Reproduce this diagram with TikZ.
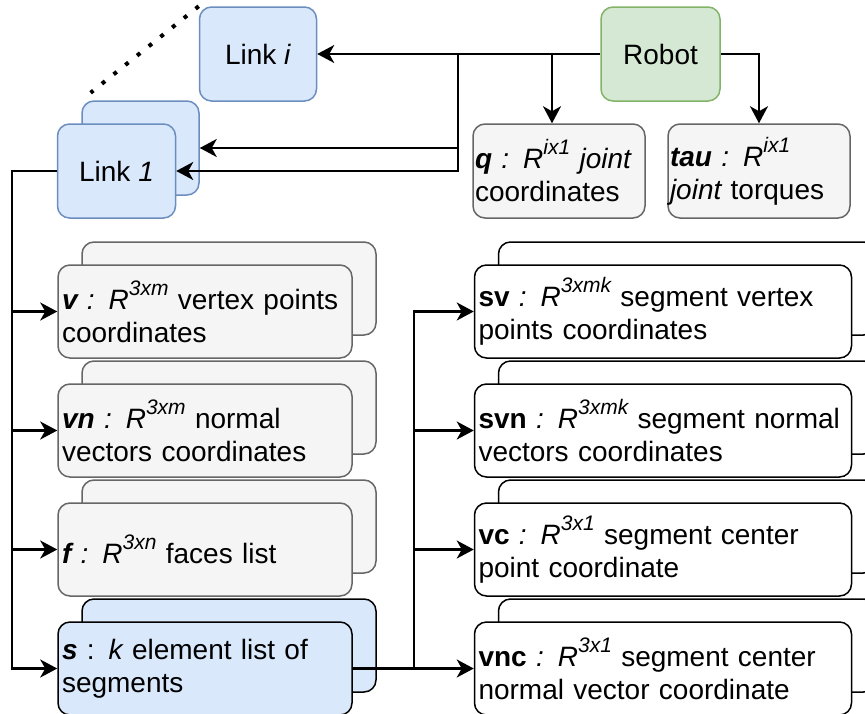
\documentclass[tikz,border=0pt]{standalone}
\usepackage{fontspec}
\setmainfont{Liberation Sans}
\usepackage{xcolor}
\usetikzlibrary{
    arrows.meta,
    positioning
}
\definecolor{LinkBlue}{HTML}{DAE8FC}
\definecolor{LinkEdge}{HTML}{6C8EBF}
\definecolor{RobotGreen}{HTML}{D5E8D4}
\definecolor{RobotEdge}{HTML}{82B366}
\definecolor{SoftGray}{HTML}{F5F5F5}
\definecolor{GrayEdge}{HTML}{666666}
\newcommand{\diafont}{\fontsize{28}{33}\selectfont}
\newcommand{\upr}[1]{\raisebox{14pt}{\fontsize{21}{21}\selectfont #1}}
\tikzset{
  linkbox/.style  = {draw=LinkEdge, fill=LinkBlue, rounded corners=12pt,
                     line width=1.5pt, minimum width=117pt,
                     minimum height=94pt, font=\diafont},
  robotbox/.style = {draw=RobotEdge, fill=RobotGreen, rounded corners=12pt,
                     line width=1.5pt, minimum width=119pt,
                     minimum height=94pt, font=\diafont},
  infobox/.style  = {draw=GrayEdge, fill=SoftGray, rounded corners=12pt,
                     line width=1.5pt, minimum height=94pt, inner xsep=2pt,
                     align=left, font=\diafont},
  geobox/.style   = {draw=GrayEdge, fill=SoftGray, rounded corners=12pt,
                     line width=1.5pt, minimum height=93pt, inner xsep=4pt,
                     text width=286pt, align=left, font=\diafont},
  segbox/.style   = {draw=black, fill=white, rounded corners=12pt,
                     line width=1.5pt, minimum height=93pt, inner xsep=4pt,
                     text width=369pt, align=left, font=\diafont},
  arr/.style      = {-{Stealth[length=17pt,width=18pt,inset=5pt]}, line width=2.2pt},
  dots/.style     = {line width=4pt, dash pattern=on 4pt off 11pt}
}

\begin{document}
\begin{tikzpicture}[x=1pt, y=-1pt, node distance=24.5pt and 121pt]
\useasboundingbox (0,0) rectangle (865,713);
% links and robot
\node[linkbox] (linki) at (258,54) {Link \textit{i}};
\node[linkbox] (link1b) at (140.5,148) {};
\node[linkbox, minimum width=118pt] (link1) at ([shift={(-24pt,-23pt)}]link1b.center) {Link \textit{1}};
\node[robotbox] (robot) at (660.5,54) {Robot};
\node[infobox, text width=168pt] (q) at (559,171) {{\bfseries\itshape q} {\itshape : R\upr{ix1} joint}\\coordinates};
\node[infobox, text width=178pt] (tau) at (759,171) {{\bfseries\itshape tau} {\itshape : R\upr{ix1}}\\{\itshape joint} torques};
\draw[dots, shorten >=12pt] (linki.north west) -- (link1b.north west);

% geometry of a link
\node[geobox] (vb) at (229,288.5) {};
\node[geobox, below=of vb] (vnb) {};
\node[geobox, below=of vnb] (fb) {};
\node[geobox, below=of fb, fill=LinkBlue, draw=black] (sb) {};
\node[geobox] (v) at ([shift={(-24pt,-23pt)}]vb.center) {{\bfseries\itshape v} {\itshape : R\upr{3xm}} vertex points\\coordinates};
\node[geobox] (vn) at ([shift={(-24pt,-23pt)}]vnb.center) {{\bfseries\itshape vn} {\itshape : R\upr{3xm}} normal\\vectors coordinates};
\node[geobox] (f) at ([shift={(-24pt,-23pt)}]fb.center) {{\bfseries\itshape f} {\itshape : R\upr{3xn}} faces list};
\node[geobox, fill=LinkBlue, draw=black] (s) at ([shift={(-24pt,-23pt)}]sb.center) {{\bfseries\itshape s} : {\itshape k} element list of\\segments};

% segments
\node[segbox, right=of vb] (svb) {};
\node[segbox, right=of vnb] (svnb) {};
\node[segbox, right=of fb] (vcb) {};
\node[segbox, right=of sb] (vncb) {};
\node[segbox] (sv) at ([shift={(-24pt,-23pt)}]svb.center) {{\bfseries sv} {\itshape : R\upr{3xmk}} segment vertex\\points coordinates};
\node[segbox] (svn) at ([shift={(-24pt,-23pt)}]svnb.center) {{\bfseries svn} {\itshape : R\upr{3xmk}} segment normal\\vectors coordinates};
\node[segbox] (vc) at ([shift={(-24pt,-23pt)}]vcb.center) {{\bfseries vc} {\itshape : R\upr{3x1}} segment center\\point coordinate};
\node[segbox] (vnc) at ([shift={(-24pt,-23pt)}]vncb.center) {{\bfseries vnc} {\itshape : R\upr{3x1}} segment center\\normal vector coordinate};

% connectors
\coordinate (jl) at (458,54);
\coordinate (jq) at (552,54);
\draw[arr] (robot.west) -- (linki.east);
\draw[arr] (jl) |- (link1b.east);
\draw[arr] (jl) |- (link1.east);
\draw[arr] (jq) -- (jq |- q.north);
\draw[arr] (robot.east) -| (tau.north);
\coordinate (bus) at (12,171);
\draw[arr] (link1.west) -- (bus) |- (s.west);
\foreach \n in {v,vn,f} \draw[arr] (bus |- \n.west) -- (\n.west);
\coordinate (sbus) at ([xshift=61pt]s.east);
\draw[arr] (s.east) -- (vnc.west);
\draw[arr] (sbus) |- (sv.west);
\foreach \n in {svn,vc} \draw[arr] (sbus |- \n.west) -- (\n.west);
\end{tikzpicture}
\end{document}
